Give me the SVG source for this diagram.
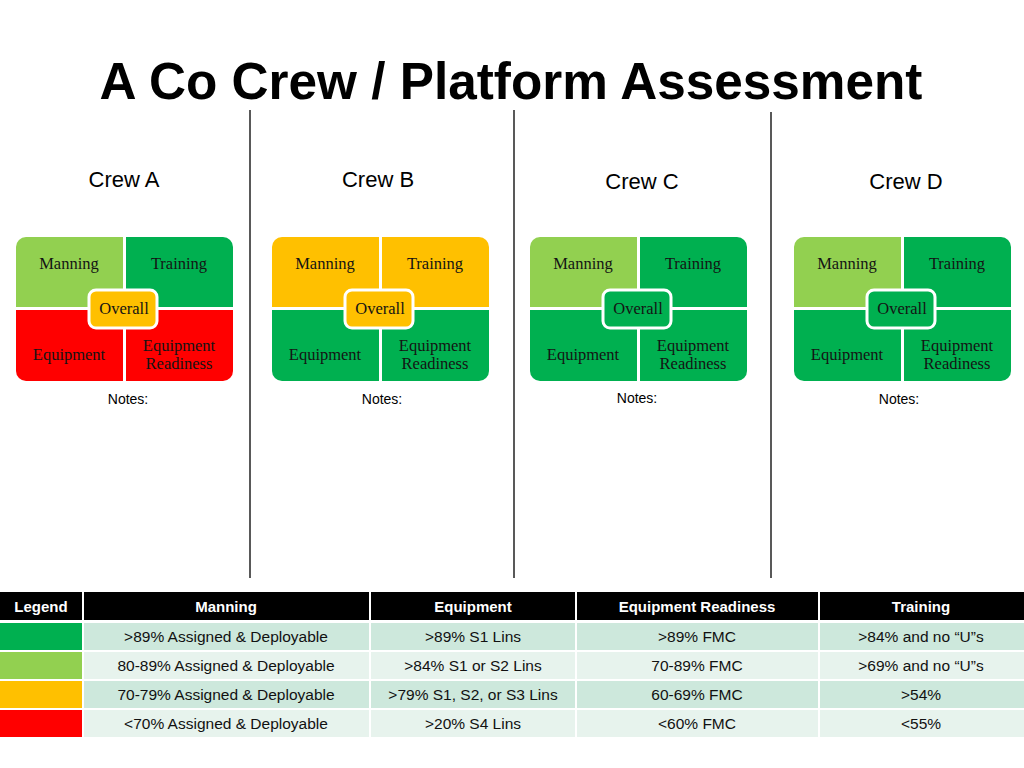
<svg xmlns="http://www.w3.org/2000/svg" width="1024" height="768" viewBox="0 0 1024 768">
<defs>
<clipPath id="blk" clipPathUnits="userSpaceOnUse"><rect x="0" y="0" width="217" height="144" rx="10"/></clipPath>
<style>
.title{font-family:"Liberation Sans",Arial,sans-serif;font-weight:bold;font-size:51.3px;fill:#000}
.crew{font-family:"Liberation Sans",Arial,sans-serif;font-size:22px;fill:#000}
.notes{font-family:"Liberation Sans",Arial,sans-serif;font-size:14px;fill:#000}
.q{font-family:"Liberation Serif","Times New Roman",serif;font-size:16.5px;fill:#141414;text-anchor:middle}
.gl{fill:#92d050}.gd{fill:#00b050}.yl{fill:#ffc000}.rd{fill:#ff0000}
.ov{stroke:#fff;stroke-width:3}
.div{stroke:#222;stroke-width:1.5}
.th{font-family:"Liberation Sans",Arial,sans-serif;font-weight:bold;font-size:15px;fill:#fff;text-anchor:middle}
.td{font-family:"Liberation Sans",Arial,sans-serif;font-size:15.5px;fill:#111;text-anchor:middle}
.r1{fill:#cde8dc}.r2{fill:#e7f3ed}
</style>
</defs>
<rect width="1024" height="768" fill="#fff"/>
<text class="title" x="511" y="99" text-anchor="middle">A Co Crew / Platform Assessment</text>

<g id="dividers">
<line class="div" x1="250" y1="110" x2="250" y2="578"/>
<line class="div" x1="514" y1="110" x2="514" y2="578"/>
<line class="div" x1="771" y1="112" x2="771" y2="578"/>
</g>

<g id="crew-a">
<text class="crew" x="124" y="187" text-anchor="middle">Crew A</text>
<g transform="translate(16,237)">
<g clip-path="url(#blk)">
<rect class="gl" x="0" y="0" width="107" height="70"/>
<rect class="gd" x="110" y="0" width="107" height="70"/>
<rect class="rd" x="0" y="73" width="107" height="71"/>
<rect class="rd" x="110" y="73" width="107" height="71"/>
</g>
<rect class="yl ov" x="73" y="53" width="68" height="38" rx="7"/>
<text class="q" x="53" y="32">Manning</text>
<text class="q" x="163" y="32">Training</text>
<text class="q" x="108" y="77">Overall</text>
<text class="q" x="53" y="123">Equipment</text>
<text class="q" x="163" y="114">Equipment</text>
<text class="q" x="163" y="132">Readiness</text>
</g>
<text class="notes" x="128" y="404" text-anchor="middle">Notes:</text>
</g>

<g id="crew-b">
<text class="crew" x="378" y="187" text-anchor="middle">Crew B</text>
<g transform="translate(272,237)">
<g clip-path="url(#blk)">
<rect class="yl" x="0" y="0" width="107" height="70"/>
<rect class="yl" x="110" y="0" width="107" height="70"/>
<rect class="gd" x="0" y="73" width="107" height="71"/>
<rect class="gd" x="110" y="73" width="107" height="71"/>
</g>
<rect class="yl ov" x="73" y="53" width="68" height="38" rx="7"/>
<text class="q" x="53" y="32">Manning</text>
<text class="q" x="163" y="32">Training</text>
<text class="q" x="108" y="77">Overall</text>
<text class="q" x="53" y="123">Equipment</text>
<text class="q" x="163" y="114">Equipment</text>
<text class="q" x="163" y="132">Readiness</text>
</g>
<text class="notes" x="382" y="404" text-anchor="middle">Notes:</text>
</g>

<g id="crew-c">
<text class="crew" x="642" y="189" text-anchor="middle">Crew C</text>
<g transform="translate(530,237)">
<g clip-path="url(#blk)">
<rect class="gl" x="0" y="0" width="107" height="70"/>
<rect class="gd" x="110" y="0" width="107" height="70"/>
<rect class="gd" x="0" y="73" width="107" height="71"/>
<rect class="gd" x="110" y="73" width="107" height="71"/>
</g>
<rect class="gd ov" x="73" y="53" width="68" height="38" rx="7"/>
<text class="q" x="53" y="32">Manning</text>
<text class="q" x="163" y="32">Training</text>
<text class="q" x="108" y="77">Overall</text>
<text class="q" x="53" y="123">Equipment</text>
<text class="q" x="163" y="114">Equipment</text>
<text class="q" x="163" y="132">Readiness</text>
</g>
<text class="notes" x="637" y="403" text-anchor="middle">Notes:</text>
</g>

<g id="crew-d">
<text class="crew" x="906" y="189" text-anchor="middle">Crew D</text>
<g transform="translate(794,237)">
<g clip-path="url(#blk)">
<rect class="gl" x="0" y="0" width="107" height="70"/>
<rect class="gd" x="110" y="0" width="107" height="70"/>
<rect class="gd" x="0" y="73" width="107" height="71"/>
<rect class="gd" x="110" y="73" width="107" height="71"/>
</g>
<rect class="gd ov" x="73" y="53" width="68" height="38" rx="7"/>
<text class="q" x="53" y="32">Manning</text>
<text class="q" x="163" y="32">Training</text>
<text class="q" x="108" y="77">Overall</text>
<text class="q" x="53" y="123">Equipment</text>
<text class="q" x="163" y="114">Equipment</text>
<text class="q" x="163" y="132">Readiness</text>
</g>
<text class="notes" x="899" y="404" text-anchor="middle">Notes:</text>
</g>

<g id="legend">
<rect x="0" y="592" width="82" height="28" fill="#000"/>
<rect x="84" y="592" width="285" height="28" fill="#000"/>
<rect x="371" y="592" width="204" height="28" fill="#000"/>
<rect x="577" y="592" width="241" height="28" fill="#000"/>
<rect x="820" y="592" width="204" height="28" fill="#000"/>
<text class="th" x="41" y="612">Legend</text>
<text class="th" x="226" y="612">Manning</text>
<text class="th" x="473" y="612">Equipment</text>
<text class="th" x="697" y="612">Equipment Readiness</text>
<text class="th" x="921" y="612">Training</text>

<rect class="gd" x="0" y="623" width="82" height="27"/>
<rect class="gl" x="0" y="652" width="82" height="27"/>
<rect class="yl" x="0" y="681" width="82" height="27"/>
<rect class="rd" x="0" y="710" width="82" height="27"/>

<g>
<rect class="r1" x="84" y="623" width="285" height="27"/><rect class="r1" x="371" y="623" width="204" height="27"/><rect class="r1" x="577" y="623" width="241" height="27"/><rect class="r1" x="820" y="623" width="204" height="27"/>
<rect class="r2" x="84" y="652" width="285" height="27"/><rect class="r2" x="371" y="652" width="204" height="27"/><rect class="r2" x="577" y="652" width="241" height="27"/><rect class="r2" x="820" y="652" width="204" height="27"/>
<rect class="r1" x="84" y="681" width="285" height="27"/><rect class="r1" x="371" y="681" width="204" height="27"/><rect class="r1" x="577" y="681" width="241" height="27"/><rect class="r1" x="820" y="681" width="204" height="27"/>
<rect class="r2" x="84" y="710" width="285" height="27"/><rect class="r2" x="371" y="710" width="204" height="27"/><rect class="r2" x="577" y="710" width="241" height="27"/><rect class="r2" x="820" y="710" width="204" height="27"/>
</g>

<text class="td" x="226" y="642">&gt;89% Assigned &amp; Deployable</text>
<text class="td" x="473" y="642">&gt;89% S1 Lins</text>
<text class="td" x="697" y="642">&gt;89% FMC</text>
<text class="td" x="921" y="642">&gt;84% and no “U”s</text>

<text class="td" x="226" y="671">80-89% Assigned &amp; Deployable</text>
<text class="td" x="473" y="671">&gt;84% S1 or S2 Lins</text>
<text class="td" x="697" y="671">70-89% FMC</text>
<text class="td" x="921" y="671">&gt;69% and no “U”s</text>

<text class="td" x="226" y="700">70-79% Assigned &amp; Deployable</text>
<text class="td" x="473" y="700">&gt;79% S1, S2, or S3 Lins</text>
<text class="td" x="697" y="700">60-69% FMC</text>
<text class="td" x="921" y="700">&gt;54%</text>

<text class="td" x="226" y="729">&lt;70% Assigned &amp; Deployable</text>
<text class="td" x="473" y="729">&gt;20% S4 Lins</text>
<text class="td" x="697" y="729">&lt;60% FMC</text>
<text class="td" x="921" y="729">&lt;55%</text>
</g>
</svg>
